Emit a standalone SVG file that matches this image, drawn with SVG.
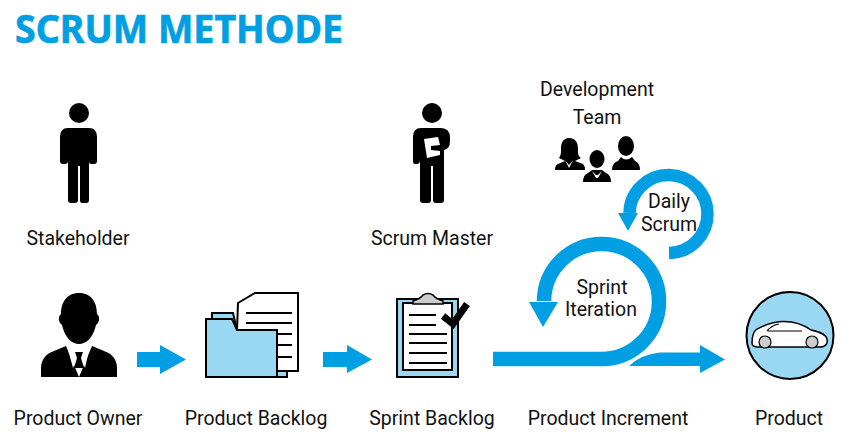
<svg xmlns="http://www.w3.org/2000/svg" width="850" height="440" viewBox="0 0 850 440">
<defs><style>
text{font-family:Roboto,"Liberation Sans",sans-serif;font-size:19.500px;fill:#111;text-anchor:middle}
.title{font-family:"Noto Sans","Liberation Sans",sans-serif;font-size:40px;font-weight:700;fill:#009fe3;stroke:#009fe3;stroke-width:.7;text-anchor:start}
.k{fill:#000}
.b{fill:#009fe3}
.o{stroke:#000;stroke-width:2}
.lb{fill:#9ad7f3}
.w{fill:#fff}
.l{stroke:#000;stroke-width:2;fill:none}
.r{fill:none;stroke:#009fe3}
</style></defs>
<rect width="850" height="440" fill="#fff"/>
<text class="title" x="15" y="43" textLength="328" lengthAdjust="spacingAndGlyphs">SCRUM METHODE</text>
<g id="connectors">
<polygon class="b" points="137,352 160,352 160,345 186,359.500 160,374 160,367 137,367"/>
<polygon class="b" points="323,352 347,352 347,345 372,359.500 347,373 347,367 323,367"/>
<path class="b" d="M629 366Q642 354 660 352.500H700V345L725 359.500L700 373V366Z"/>
<path class="r" stroke-width="14.500" d="M493 359H601A57.500 57.500 0 1 0 544 301"/>
<polygon class="b" points="529,302 558,302 543,327"/>
<path class="r" stroke-width="12.500" d="M669 253A39 39 0 1 0 629.500 213"/>
<polygon class="b" points="618,213 638,213 628,231"/>
</g>
<g id="stakeholder">
<circle class="k" cx="79" cy="113" r="10"/>
<path class="k" d="M68 128H89Q97 128 97 137V161Q97 164 94 164H91Q89 164 89 161V200Q89 203 86 203H82Q80 203 80 200V166H78V200Q78 203 75 203H71Q68 203 68 200V161Q68 164 65 164H63Q60 164 60 161V137Q60 128 68 128Z"/>
<text x="78" y="245">Stakeholder</text>
</g>
<g id="scrum-master">
<circle class="k" cx="432" cy="113" r="10"/>
<path class="k" d="M421 128H441Q450 128 450 138V141Q450 149 444 150V200Q444 203 441 203H436Q433 203 433 200V166H431V200Q431 203 428 203H423Q420 203 420 200V160Q420 164 417 164H415Q413 164 413 161V137Q413 128 421 128Z"/>
<polygon class="w" points="424,139 438,137 440,145 431,146 431,150 440,151 440,155 427,158"/>
<text x="432" y="245">Scrum Master</text>
</g>
<g id="development-team">
<text x="597" y="96">Development</text>
<text x="597" y="124">Team</text>
<path class="k" d="M569 138C576 138 578 143 578 149C578 154 578 156 581 158L575 161L583 164Q585 166 585 170H555Q555 165 558 164L565 161L559 158C561 155 561 153 561 149C561 143 563 138 569 138Z"/>
<path class="w" d="M565 160L569 165L573 160L569 168Z"/>
<ellipse class="k" cx="597" cy="159" rx="7.500" ry="9"/>
<path class="k" d="M583 182Q583 175 588 173L592 170H602L606 173Q611 175 611 182Z"/>
<path class="w" d="M592 171L596 178L598 178L602 171L598 175H596Z"/>
<ellipse class="k" cx="626" cy="146" rx="8" ry="10"/>
<path class="k" d="M612 170Q612 163 618 161L621 157Q626 162 632 157L635 161Q640 163 640 170Z"/>
</g>
<g id="product-owner">
<path class="k" d="M79 293C92 293 97 303 97 314C100 316 100 322 96 325C93 338 86 344 79 344C72 344 65 338 62 325C58 322 58 316 61 314C61 303 66 293 79 293Z"/>
<path class="k" d="M41 377V368C41 358 48 353 54 351L66 346L79 377H41ZM117 377V368C117 358 110 353 104 351L92 346L79 377H117Z"/>
<polygon class="w" points="67,346 73,368 76,360 74,352 84,352 82,360 85,368 90,346 84,345 74,345"/>
<polygon class="k" points="75,352 83,352 81,358 84,368 74,368 77,358"/>
<text x="78" y="425">Product Owner</text>
</g>
<g id="product-backlog">
<path class="lb o" d="M212 319V313H233L237 330H287V377H277"/>
<polygon class="w o" points="238,303 255,293 298,293 298,371 277,371 277,330 237,330"/>
<path class="l" d="M246 313H292M246 323H292M277 334H292M277 345H292M277 357H292"/>
<path class="lb o" d="M206 319H232L237 330H277V377H206Z"/>
<text x="256" y="425">Product Backlog</text>
</g>
<g id="sprint-backlog">
<rect class="lb o" x="397" y="299" width="61" height="78"/>
<rect class="w o" x="403" y="303" width="49" height="67"/>
<path d="M413 304V301Q420 299 423 295Q428 292 433 295Q436 299 443 301V304Z" fill="#ccc" stroke="#000" stroke-width="1.500"/>
<path class="l" d="M409 315H436M409 325H436M409 334H447M409 343H447M409 353H447M409 363H447"/>
<polyline points="443,316 453,324 467,304" fill="none" stroke="#000" stroke-width="7"/>
<text x="432" y="425">Sprint Backlog</text>
</g>
<g id="product-increment">
<text x="608" y="425">Product Increment</text>
</g>
<g id="daily-scrum">
<text x="669" y="208">Daily</text>
<text x="669" y="231">Scrum</text>
</g>
<g id="sprint-iteration">
<text x="602" y="294">Sprint</text>
<text x="601" y="316">Iteration</text>
</g>
<g id="product">
<circle class="lb o" cx="790" cy="335.500" r="43.500"/>
<path class="w" stroke="#000" stroke-width="1.500" d="M752 343C752 337 754 331 757 329C763 326 770 322 782 321.500C795 321 804 325 811 330C820 332 826 334 827 339C828 343 826 347 820 347H758C754 347 752 346 752 343Z"/>
<path class="l" style="stroke-width:1.200" d="M767 331Q772 325 779 324M768 331H802"/>
<circle cx="765" cy="342" r="6" fill="#ccc" stroke="#000" stroke-width="1.200"/>
<circle cx="812" cy="342" r="6" fill="#ccc" stroke="#000" stroke-width="1.200"/>
<text x="789" y="425">Product</text>
</g>
</svg>
